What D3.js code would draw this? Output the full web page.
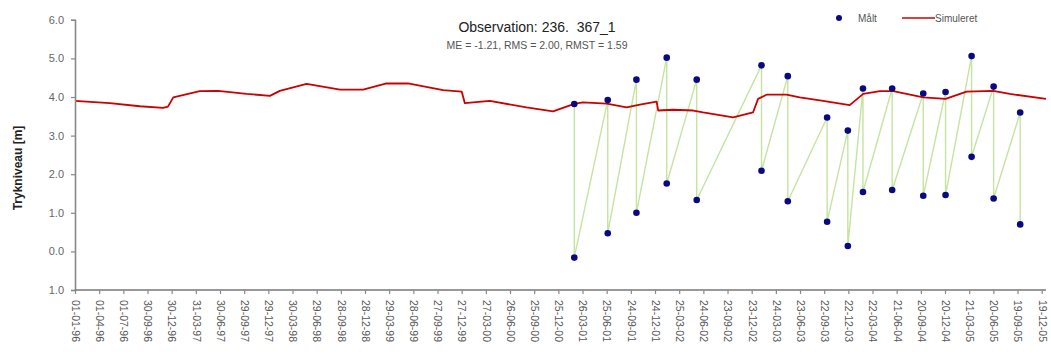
<!DOCTYPE html>
<html>
<head>
<meta charset="utf-8">
<script src="https://cdn.jsdelivr.net/npm/d3@7"></script>
<style>
  html, body { margin: 0; padding: 0; background: #fff; }
  svg { display: block; font-family: "Liberation Sans", Arial, sans-serif; }
</style>
</head>
<body>
<svg id="chart" width="1051" height="354"></svg>
<script>
// ---- data ----
const titleText = "Observation: 236.  367_1";
const subtitleText = "ME = -1.21, RMS = 2.00, RMST = 1.59";
const yAxisTitle = "Trykniveau [m]";
const legendLabels = ["Målt", "Simuleret"];

const yTickValues = [-1, 0, 1, 2, 3, 4, 5, 6];
const yTickLabels = ["1.0", "0.0", "1.0", "2.0", "3.0", "4.0", "5.0", "6.0"];

const xTickLabels = [
  "01-01-96","01-04-96","01-07-96","30-09-96","30-12-96","31-03-97","30-06-97","29-09-97",
  "29-12-97","30-03-98","29-06-98","28-09-98","28-12-98","29-03-99","28-06-99","27-09-99",
  "27-12-99","27-03-00","26-06-00","25-09-00","25-12-00","26-03-01","25-06-01","24-09-01",
  "24-12-01","25-03-02","24-06-02","23-09-02","23-12-02","24-03-03","23-06-03","22-09-03",
  "22-12-03","22-03-04","21-06-04","20-09-04","20-12-04","21-03-05","20-06-05","19-09-05",
  "19-12-05"
];
const xAxisEnd = "2006-01-04";

// simulated series (date, level)
const simDates = [
  "1996-01-01","1996-05-11","1996-09-01","1996-11-28","1996-12-16","1997-01-05","1997-04-15",
  "1997-06-22","1997-10-08","1998-01-04","1998-02-10","1998-05-22","1998-09-25","1998-12-21",
  "1999-03-19","1999-06-08","1999-10-18","1999-12-27","2000-01-08","2000-04-11","2000-08-27",
  "2000-12-05","2001-02-23","2001-03-27","2001-06-25","2001-09-08","2001-10-28","2001-12-30",
  "2002-01-05","2002-03-02","2002-05-17","2002-06-23","2002-10-14","2002-12-28","2003-01-16",
  "2003-02-17","2003-05-03","2003-06-22","2003-09-18","2003-12-27","2004-02-16","2004-04-19",
  "2004-06-08","2004-09-29","2004-12-22","2005-03-11","2005-06-19","2005-08-21","2006-01-04"
];
const simValues = [
  3.90, 3.84, 3.76, 3.72, 3.75, 3.99, 4.15,
  4.16, 4.08, 4.03, 4.16, 4.34, 4.19, 4.19,
  4.35, 4.35, 4.18, 4.14, 3.84, 3.90, 3.73,
  3.63, 3.82, 3.86, 3.83, 3.73, 3.80, 3.88,
  3.65, 3.67, 3.65, 3.60, 3.47, 3.60, 3.95,
  4.06, 4.06, 3.99, 3.90, 3.79, 4.08, 4.15,
  4.15, 3.99, 3.95, 4.14, 4.16, 4.08, 3.95
];

// observed series (in chronological order, pairs per date)
const obsDates = [
  "2001-02-23","2001-02-23","2001-06-29","2001-06-29","2001-10-15","2001-10-15",
  "2002-02-06","2002-02-06","2002-05-30","2002-05-30","2003-01-29","2003-01-29",
  "2003-05-08","2003-05-08","2003-10-03","2003-10-03","2003-12-20","2003-12-20",
  "2004-02-15","2004-02-15","2004-06-04","2004-06-04","2004-09-29","2004-09-29",
  "2004-12-22","2004-12-22","2005-03-30","2005-03-30","2005-06-21","2005-06-21",
  "2005-09-29","2005-09-29"
];
const obsValues = [
  3.82, -0.16, 3.92, 0.47, 4.45, 1.00,
  5.02, 1.76, 4.45, 1.33, 4.82, 2.09,
  4.54, 1.30, 3.47, 0.77, 3.13, 0.14,
  4.22, 1.54, 4.22, 1.59, 4.09, 1.44,
  4.13, 1.46, 5.06, 2.45, 4.27, 1.37,
  3.60, 0.70
];

// ---- drawing ----
const parse = d3.timeParse("%Y-%m-%d");
const parseTick = d3.timeParse("%d-%m-%y");
const sim = simDates.map((d, i) => ({ date: parse(d), v: simValues[i] }));
const obs = obsDates.map((d, i) => ({ date: parse(d), v: obsValues[i] }));
const tickDates = xTickLabels.map(parseTick);

const svg = d3.select("#chart");
const plotLeft = 75, plotRight = 1041.7, plotTop = 19.8, plotBottom = 290;

const x = d3.scaleTime().domain([tickDates[0], tickDates[tickDates.length - 1]]).range([plotLeft, plotRight]);
const y = d3.scaleLinear().domain([-1, 6]).range([plotBottom, plotTop]);

// green connecting lines for observations
svg.append("path")
  .datum(obs)
  .attr("fill", "none")
  .attr("stroke", "#c4e4a0")
  .attr("stroke-width", 1.4)
  .attr("d", d3.line().x(d => x(d.date)).y(d => y(d.v)));

// simulated
svg.append("path")
  .datum(sim)
  .attr("fill", "none")
  .attr("stroke", "#cc0000")
  .attr("stroke-width", 1.8)
  .attr("stroke-linejoin", "round")
  .attr("d", d3.line().x(d => x(d.date)).y(d => y(d.v)));

// observation dots
svg.append("g").selectAll("circle")
  .data(obs)
  .join("circle")
  .attr("cx", d => x(d.date))
  .attr("cy", d => y(d.v))
  .attr("r", 3.3)
  .attr("fill", "#0a0a80");

// y axis
const yAxis = d3.axisLeft(y)
  .tickValues(yTickValues)
  .tickFormat((d, i) => yTickLabels[i])
  .tickSize(4)
  .tickPadding(7);
const gy = svg.append("g").attr("transform", `translate(${plotLeft},0)`).call(yAxis);
gy.select(".domain").attr("stroke", "#888").attr("stroke-width", 1.6);
gy.selectAll(".tick line").attr("stroke", "#888").attr("stroke-width", 1.2);
gy.selectAll(".tick text").attr("fill", "#666").style("font-size", "11px");

// x axis
const xAxis = d3.axisBottom(x)
  .tickValues(tickDates)
  .tickFormat((d, i) => xTickLabels[i])
  .tickSize(4)
  .tickPadding(0);
const gx = svg.append("g").attr("transform", `translate(0,${plotBottom})`).call(xAxis);
gx.select(".domain")
  .attr("d", `M${plotLeft},0H${x(parse(xAxisEnd))}`)
  .attr("stroke", "#777").attr("stroke-width", 1.6);
gx.selectAll(".tick line").attr("stroke", "#888").attr("stroke-width", 1.2);
gx.selectAll(".tick text")
  .attr("fill", "#555")
  .style("font-size", "10.5px")
  .attr("text-anchor", "start")
  .attr("transform", "rotate(90)")
  .attr("x", 10)
  .attr("y", 0)
  .attr("dy", "0.35em");

// y axis title
svg.append("text")
  .attr("transform", "translate(22,168) rotate(-90)")
  .attr("text-anchor", "middle")
  .style("font-size", "12px")
  .style("font-weight", "bold")
  .attr("fill", "#222")
  .text(yAxisTitle);

// titles
svg.append("text")
  .attr("x", 537).attr("y", 32)
  .attr("text-anchor", "middle")
  .style("font-size", "14px")
  .style("white-space", "pre")
  .attr("xml:space", "preserve")
  .attr("fill", "#222")
  .text(titleText);
svg.append("text")
  .attr("x", 537).attr("y", 49)
  .attr("text-anchor", "middle")
  .style("font-size", "10.5px")
  .attr("fill", "#555")
  .text(subtitleText);

// legend
svg.append("circle").attr("cx", 839).attr("cy", 18).attr("r", 3).attr("fill", "#0a0a80");
svg.append("text").attr("x", 858).attr("y", 21.5).style("font-size", "10px").attr("fill", "#555").text(legendLabels[0]);
svg.append("line").attr("x1", 902).attr("x2", 935).attr("y1", 18).attr("y2", 18)
  .attr("stroke", "#cc0000").attr("stroke-width", 1.6);
svg.append("text").attr("x", 935).attr("y", 21.5).style("font-size", "10px").attr("fill", "#555").text(legendLabels[1]);
</script>
</body>
</html>
